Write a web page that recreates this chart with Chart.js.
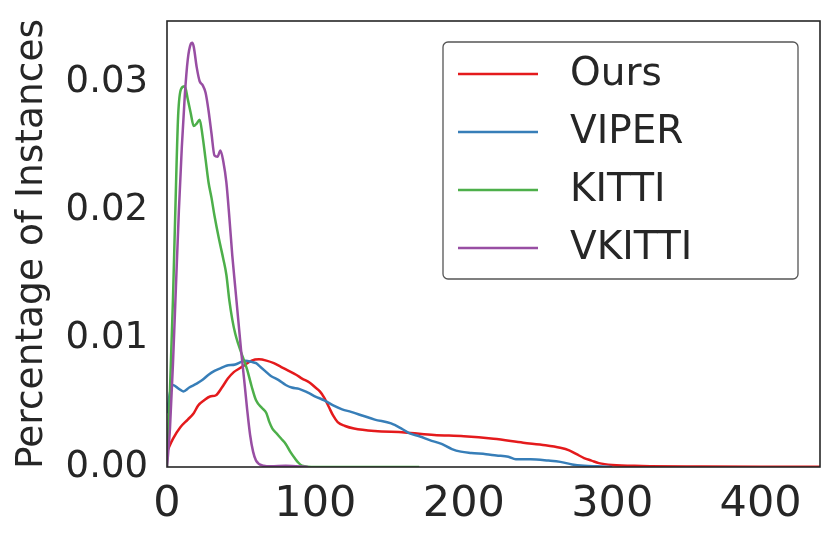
<!DOCTYPE html>
<html>
<head>
<meta charset="utf-8">
<script src="https://cdn.jsdelivr.net/npm/chart.js@4.4.1/dist/chart.umd.min.js"></script>
<style>
  html, body { margin: 0; padding: 0; background: #fff; }
  #wrap { width: 830px; height: 554px; }
</style>
</head>
<body>
<div id="wrap"><canvas id="chart"></canvas></div>
<script>
// series (x = size, y = share of instances)
const seriesNames = ["Ours", "VIPER", "KITTI", "VKITTI"];
const seriesColors = ["#e41a1c", "#377eb8", "#4daf4a", "#984ea3"];

const oursX = [0, 4, 9, 14, 18, 21, 25, 29, 33, 37, 41, 45, 49, 53, 57, 62, 67, 72, 77, 82, 87, 91, 96, 100, 103, 106, 109, 112, 115, 120, 126, 140, 160, 180, 200, 220, 240, 255, 265, 271, 276, 281, 286, 291, 300, 320, 360, 400, 440];
const oursY = [0.0012, 0.0022, 0.0031, 0.0037, 0.0042, 0.0048, 0.0052, 0.0055, 0.0056, 0.0062, 0.0069, 0.0074, 0.0077, 0.0080, 0.0083, 0.0084, 0.0083, 0.0081, 0.0078, 0.0075, 0.0072, 0.0069, 0.0066, 0.0062, 0.0059, 0.0054, 0.0047, 0.0040, 0.0035, 0.0032, 0.0030, 0.0028, 0.0027, 0.0025, 0.0024, 0.0022, 0.0019, 0.0017, 0.0015, 0.0013, 0.0010, 0.0007, 0.0005, 0.0003, 0.00015, 0.00008, 0.00004, 0.00002, 0.00001];

const viperX = [0, 2, 4, 8, 11, 15, 20, 24, 28, 32, 36, 40, 46, 50, 53, 57, 60, 63, 66, 70, 75, 80, 84, 89, 95, 100, 106, 112, 118, 124, 132, 140, 151, 158, 164, 170, 177, 185, 192, 198, 205, 215, 222, 230, 235, 245, 257, 265, 273, 281, 290, 300];
const viperY = [0.0042, 0.0058, 0.0064, 0.0061, 0.0059, 0.0062, 0.0065, 0.0068, 0.0072, 0.0075, 0.0077, 0.0079, 0.0080, 0.0082, 0.0083, 0.0082, 0.0081, 0.0078, 0.0075, 0.0071, 0.0068, 0.0064, 0.0062, 0.0061, 0.0058, 0.0055, 0.0052, 0.0048, 0.0045, 0.0043, 0.0040, 0.0037, 0.0034, 0.0030, 0.0026, 0.0024, 0.0021, 0.0018, 0.0014, 0.0012, 0.0011, 0.0010, 0.0009, 0.0008, 0.0006, 0.0006, 0.0005, 0.0004, 0.0002, 0.0001, 0.00005, 0];

const kittiX = [0, 2, 4, 5.5, 7.5, 9.5, 12, 14, 16, 18, 20, 22, 24, 26, 28, 30, 32, 35, 38, 40, 42, 44, 46, 48, 51, 54, 57, 60, 64, 67, 69, 71, 74, 77, 80, 83, 86, 88, 91, 100, 130, 170];
const kittiY = [0, 0.0060, 0.0130, 0.0195, 0.0274, 0.0295, 0.0297, 0.0287, 0.0276, 0.0266, 0.0268, 0.0271, 0.0258, 0.0240, 0.0222, 0.0210, 0.0196, 0.0178, 0.0162, 0.0150, 0.0130, 0.0115, 0.0104, 0.0096, 0.0086, 0.0076, 0.0063, 0.0052, 0.0046, 0.0042, 0.0035, 0.0030, 0.0026, 0.0022, 0.0018, 0.0012, 0.0007, 0.0004, 0.0001, 0, 0, 0];

const vkittiX = [0, 2, 4, 6, 8, 10, 12, 14, 16, 17, 18, 20, 22, 24, 26, 28, 30, 32, 34, 36, 38, 40, 42, 44, 46, 48, 50, 52, 54, 56, 58, 60, 65, 70, 80, 95];
const vkittiY = [0, 0.0030, 0.0080, 0.0140, 0.0200, 0.0250, 0.0290, 0.0318, 0.0330, 0.0331, 0.0328, 0.0312, 0.0301, 0.0298, 0.0292, 0.0278, 0.0260, 0.0243, 0.0242, 0.0247, 0.0238, 0.0222, 0.0195, 0.0165, 0.0140, 0.0115, 0.0090, 0.0068, 0.0045, 0.0025, 0.0012, 0.0005, 0.0001, 0.00005, 0.0001, 0];

const xTicks = [0, 100, 200, 300, 400];
const yTicks = [0, 0.01, 0.02, 0.03];

const FONT = "'DejaVu Sans', sans-serif";
const INK = "#262626";

function pts(xs, ys) {
  return xs.map((x, i) => ({ x: x, y: ys[i] }));
}

const allX = [oursX, viperX, kittiX, vkittiX];
const allY = [oursY, viperY, kittiY, vkittiY];

const datasets = seriesNames.map((name, i) => ({
  label: name,
  data: pts(allX[i], allY[i]),
  borderColor: seriesColors[i],
  backgroundColor: seriesColors[i],
  borderWidth: 2.5,
  pointRadius: 0,
  fill: false,
  cubicInterpolationMode: 'monotone',
  order: 4 - i  // later series on top, like the original
}));

// frame round the plot area
const framePlugin = {
  id: 'frame',
  afterDatasetsDraw(chart) {
    const a = chart.chartArea, ctx = chart.ctx;
    ctx.save();
    ctx.strokeStyle = INK;
    ctx.lineWidth = 1.6;
    ctx.strokeRect(a.left, a.top, a.right - a.left, a.bottom - a.top);
    ctx.restore();
  }
};

// legend box inside the plot, upper right
const boxLegend = {
  id: 'boxLegend',
  afterDraw(chart) {
    const ctx = chart.ctx;
    const x0 = 443, y0 = 42, w = 355, h = 237, r = 5;
    ctx.save();
    ctx.fillStyle = 'rgba(255,255,255,0.85)';
    ctx.strokeStyle = '#555';
    ctx.lineWidth = 1.3;
    ctx.beginPath();
    ctx.roundRect(x0, y0, w, h, r);
    ctx.fill();
    ctx.stroke();
    ctx.font = "39px " + FONT;
    ctx.textBaseline = 'middle';
    ctx.fillStyle = INK;
    chart.data.datasets.forEach((ds, i) => {
      const y = 74 + i * 58;
      ctx.strokeStyle = ds.borderColor;
      ctx.lineWidth = 2.5;
      ctx.beginPath();
      ctx.moveTo(458, y);
      ctx.lineTo(538, y);
      ctx.stroke();
      ctx.fillText(ds.label, 570, y + 1);
    });
    ctx.restore();
  }
};

new Chart(document.getElementById('chart'), {
  type: 'line',
  data: { datasets: datasets },
  options: {
    responsive: true,
    maintainAspectRatio: false,
    animation: false,
    layout: { padding: { top: 0, right: 10, bottom: 0, left: 0 } },
    plugins: {
      legend: { display: false },
      tooltip: { enabled: false }
    },
    scales: {
      x: {
        type: 'linear',
        min: 0,
        max: 440,
        grid: { display: false, drawTicks: false },
        border: { display: false },
        afterBuildTicks: s => { s.ticks = xTicks.map(v => ({ value: v })); },
        afterFit: s => { s.height = 87; s.paddingRight = 0; },
        ticks: {
          color: INK,
          padding: 12,
          maxRotation: 0,
          font: { family: FONT, size: 43 },
          callback: v => String(v)
        }
      },
      y: {
        type: 'linear',
        min: 0,
        max: 0.0348,
        grid: { display: false, drawTicks: false },
        border: { display: false },
        afterBuildTicks: s => { s.ticks = yTicks.map(v => ({ value: v })); },
        afterFit: s => { s.width = 167; s.paddingTop = 21; },
        title: {
          display: true,
          text: 'Percentage of Instances',
          color: INK,
          font: { family: FONT, size: 37.5 },
          padding: { top: 10, bottom: 0 }
        },
        ticks: {
          color: INK,
          padding: 19,
          font: { family: FONT, size: 37 },
          callback: v => v.toFixed(2)
        }
      }
    }
  },
  plugins: [framePlugin, boxLegend]
});
</script>
</body>
</html>
